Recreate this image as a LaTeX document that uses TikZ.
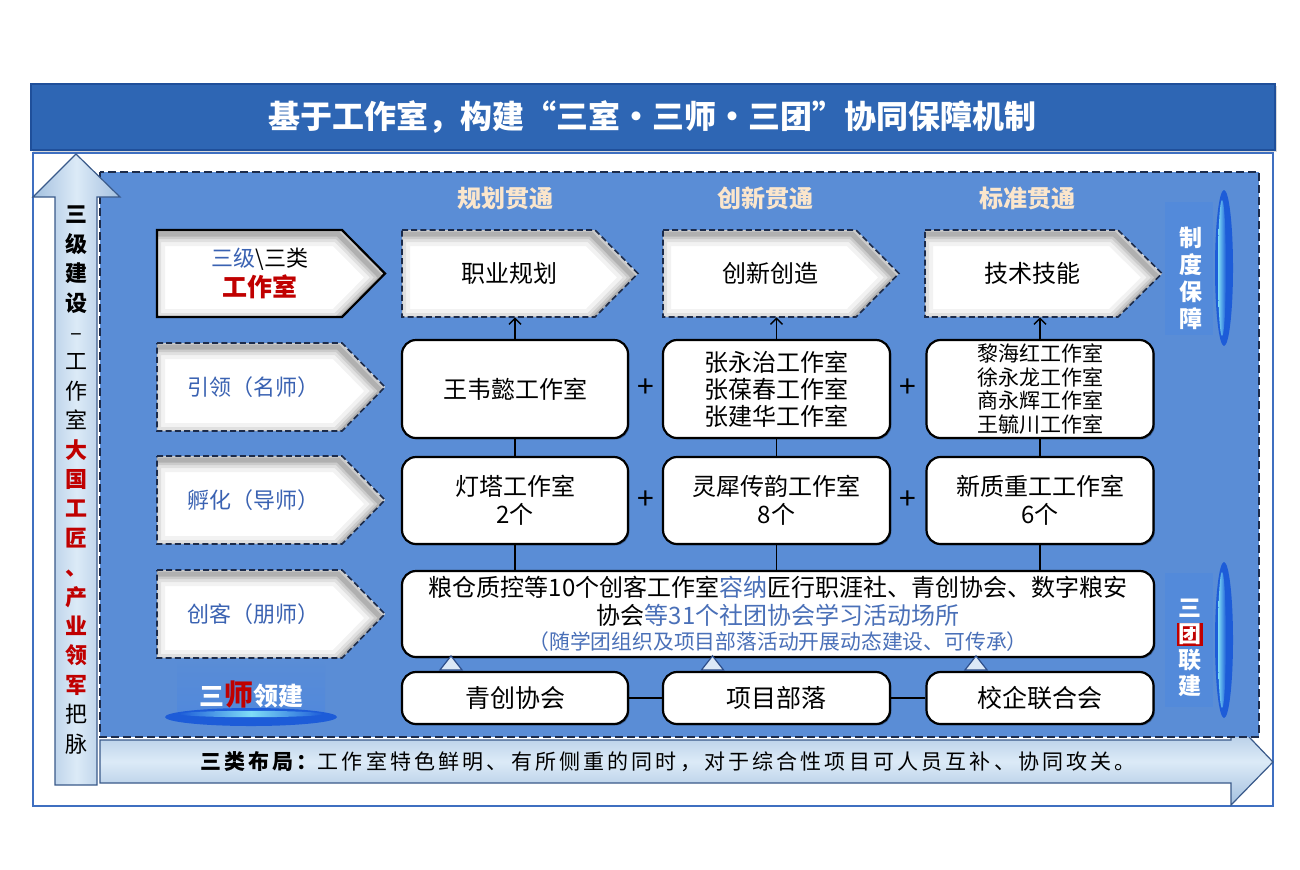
\documentclass[tikz,border=0pt]{standalone}
\usepackage{fontspec}
\setmainfont{Noto Sans CJK SC}
\newfontfamily\spacedfont[LetterSpace=15]{Noto Sans CJK SC}
\usetikzlibrary{calc,arrows.meta,shadows}
\definecolor{cRed}{HTML}{C00000}
\definecolor{cHdrBlue}{HTML}{3A62B2}
\definecolor{cTextBlue}{HTML}{4A70B8}
\definecolor{cPeach}{HTML}{FBE6CC}
\definecolor{cPanel}{HTML}{5A8DD6}
\definecolor{cTitle}{HTML}{2E66B4}
\definecolor{cTitleEdge}{HTML}{1F4F9A}
\definecolor{cFrame}{HTML}{3F6FC0}
\definecolor{cNavy}{HTML}{1C2B4A}
\definecolor{cArrowEdge}{HTML}{3A5A8A}
\definecolor{cArrowLight}{HTML}{DCEAF7}
\definecolor{cArrowDark}{HTML}{A3C0DF}
\definecolor{cTri}{HTML}{DCE9F7}
\definecolor{cTriEdge}{HTML}{2D4E8A}
\definecolor{cGloss}{HTML}{1D5CD8}
\definecolor{cCyan}{HTML}{7FDDF7}
\definecolor{cGlow}{HTML}{4A86E2}
\newcommand{\pentP}[5]{(#1,#2) -- (#3,#2) -- (#4,{(#2+#5)/2}) -- (#3,#5) -- (#1,#5) -- cycle}
\newcommand{\pentagon}[6]{%
  \fill[white] \pentP{#2}{#3}{#4}{#5}{#6};
  \begin{scope}
    \clip \pentP{#2}{#3}{#4}{#5}{#6};
    \foreach \w/\o in {12/0.05,8/0.07,5/0.09,2.5/0.13}{%
      \draw[black, draw opacity=\o, line width=\w pt, shift={(-4,4)}] \pentP{#2}{#3}{#4}{#5}{#6};}
  \end{scope}
  \draw[#1] \pentP{#2}{#3}{#4}{#5}{#6};}
\newcommand{\rc}[1]{\textcolor{cRed}{\bfseries #1}}
\newcommand{\bc}[1]{{\bfseries #1}}
\begin{document}
\begin{tikzpicture}[x=0.5pt,y=-0.5pt,
  rbox/.style={draw=black, line width=1.1pt, fill=white, rounded corners=7pt, inner sep=0pt, align=center,
    drop shadow={shadow xshift=0.7pt, shadow yshift=-0.7pt, opacity=0.3, fill=black}},
  pentdash/.style={draw=cNavy, line width=0.8pt, dash pattern=on 3pt off 1.6pt},
  pentsolid/.style={draw=black, line width=1.1pt},
  hdr/.style={font=\fontsize{11}{13}\selectfont, text=cHdrBlue, inner sep=0pt},
  coltitle/.style={font=\bfseries\fontsize{12}{14}\selectfont, text=cPeach, inner sep=0pt},
  body/.style={font=\fontsize{12}{14}\selectfont, inner sep=0pt, align=center},
  link/.style={draw=black, line width=0.7pt},
  uparrow/.style={link, -{Straight Barb[length=3pt,width=6pt]}},
  tri/.style={fill=cTri, draw=cTriEdge, line width=0.6pt},
  plus/.style={font=\fontsize{15}{15}\selectfont, inner sep=0pt},
  vlabel/.style={font=\bfseries\fontsize{11.5}{13.5}\selectfont, text=white, align=center, inner sep=0pt}
]
\useasboundingbox (0,0) rectangle (1300,869);
\fill[white] (0,0) rectangle (1300,869);

% title bar and frame
\draw[cFrame, line width=0.6pt] (33,153) rectangle (1273,806);
\fill[black, opacity=0.15] (33,86) rectangle (1277,152);
\draw[fill=cTitle, draw=cTitleEdge, line width=0.6pt] (31,84) rectangle (1275,150);
\node[font=\bfseries\fontsize{16}{18}\selectfont, text=white, inner sep=0pt] (title) at (652,117)
  {基于工作室，构建“三室·三师·三团”协同保障机制};

% bottom arrow (behind panel)
\draw[cArrowEdge, line width=0.6pt, top color=cArrowDark, bottom color=cArrowDark, middle color=cArrowLight]
  (100,740) -- (1231,740) -- (1231,718) -- (1273,762) -- (1231,805) -- (1231,783) -- (100,783) -- cycle;
\node[font=\spacedfont\fontsize{10.5}{12}\selectfont, inner sep=0pt] (layout) at (668,762)
  {{\bfseries 三类布局：}工作室特色鲜明、有所侧重的同时，对于综合性项目可人员互补、协同攻关。};

% main panel
\draw[fill=cPanel, draw=cNavy, line width=0.9pt, dash pattern=on 4pt off 2pt] (100,172) rectangle (1259,737);

% left arrow (over panel)
\draw[cArrowEdge, line width=0.6pt, left color=cArrowDark, right color=cArrowDark, middle color=cArrowLight]
  (55,785) -- (55,197) -- (33,197) -- (76,154) -- (120,197) -- (97,197) -- (97,785) -- cycle;
\node[font=\fontsize{11}{14.7}\selectfont, align=center, inner sep=0pt] (lv) at (76,480)
  {\bc{三}\\\bc{级}\\\bc{建}\\\bc{设}\\–\\工\\作\\室\\\rc{大}\\\rc{国}\\\rc{工}\\\rc{匠}\\\rc{、}\\\rc{产}\\\rc{业}\\\rc{领}\\\rc{军}\\把\\脉};

% column titles
\node[coltitle] (ct1) at (505,198) {规划贯通};
\node[coltitle] (ct2) at (765,198) {创新贯通};
\node[coltitle] (ct3) at (1027,198) {标准贯通};

% row headers
\pentagon{pentsolid}{157}{230}{342}{385}{317}
\node[font=\fontsize{11}{15}\selectfont, align=center, inner sep=0pt] (h1) at (260,273)
  {\textcolor{cHdrBlue}{三级}\textbackslash 三类\\{\bfseries\fontsize{12.5}{15}\selectfont\color{cRed}工作室}};
\pentagon{pentdash}{157}{343}{342}{385}{431}
\node[hdr] (h2) at (253,387) {引领（名师）};
\pentagon{pentdash}{157}{456}{342}{385}{544}
\node[hdr] (h3) at (253,500) {孵化（导师）};
\pentagon{pentdash}{157}{570}{342}{385}{658}
\node[hdr] (h4) at (253,614) {创客（朋师）};

% row 1 column pentagons
\pentagon{pentdash}{402}{230}{595}{638}{317}
\node[body, minimum width=75pt, minimum height=43.5pt] (p1) at (509,273.5) {职业规划};
\pentagon{pentdash}{663}{230}{856}{899}{317}
\node[body, minimum width=75pt, minimum height=43.5pt] (p2) at (770,273.5) {创新创造};
\pentagon{pentdash}{925}{230}{1118}{1162}{317}
\node[body, minimum width=75pt, minimum height=43.5pt] (p3) at (1032,273.5) {技术技能};

% row 2
\node[rbox, body, minimum width=113pt, minimum height=49pt] (b21) at (515,389) {王韦懿工作室};
\node[rbox, body, minimum width=113.5pt, minimum height=49pt] (b22) at (776.5,389)
  {张永治工作室\\[-0.5pt]张葆春工作室\\[-0.5pt]张建华工作室};
\node[rbox, minimum width=113.5pt, minimum height=49pt, font=\fontsize{10.5}{11.7}\selectfont] (b23) at (1040,389)
  {黎海红工作室\\徐永龙工作室\\商永辉工作室\\王毓川工作室};
\node[plus] (pl1) at (645.5,388) {+};
\node[plus] (pl2) at (908,388) {+};

% row 3
\node[rbox, body, minimum width=113pt, minimum height=43.5pt] (b31) at (515,500.5) {灯塔工作室\\2个};
\node[rbox, body, minimum width=113.5pt, minimum height=43.5pt] (b32) at (776.5,500.5) {灵犀传韵工作室\\8个};
\node[rbox, body, minimum width=113.5pt, minimum height=43.5pt] (b33) at (1040,500.5) {新质重工工作室\\6个};
\node[plus] (pl3) at (645.5,500) {+};
\node[plus] (pl4) at (908,500) {+};

% row 4
\node[rbox, body, minimum width=376pt, minimum height=43pt] (b4) at (778,614)
  {粮仓质控等10个创客工作室\textcolor{cTextBlue}{容纳}匠行职涯社、青创协会、数字粮安\\
   协会\textcolor{cTextBlue}{等31个社团协会学习活动场所}\\[-1.5pt]
   {\fontsize{10.4}{12}\selectfont\color{cTextBlue}（随学团组织及项目部落活动开展动态建设、可传承）}};

% row 5
\node[rbox, minimum width=113pt, minimum height=26pt, font=\fontsize{12.5}{14}\selectfont] (b51) at (515,698) {青创协会};
\node[rbox, minimum width=113.5pt, minimum height=26pt, font=\fontsize{12.5}{14}\selectfont] (b52) at (776.5,698) {项目部落};
\node[rbox, minimum width=113.5pt, minimum height=26pt, font=\fontsize{12.5}{14}\selectfont] (b53) at (1040,698) {校企联合会};

% connectors
\draw[uparrow] (b21.north) -- (b21.north |- p1.south);
\draw[uparrow] (b22.north) -- (b22.north |- p2.south);
\draw[uparrow] (b23.north) -- (b23.north |- p3.south);
\draw[link] (b21.south) -- (b31.north);
\draw[link] (b22.south) -- (b32.north);
\draw[link] (b23.south) -- (b33.north);
\draw[link] (b31.south) -- (b31.south |- b4.north);
\draw[link] (b32.south) -- (b32.south |- b4.north);
\draw[link] (b33.south) -- (b33.south |- b4.north);
\draw[link] (b51.east) -- (b52.west);
\draw[link] (b52.east) -- (b53.west);
\foreach \b in {b51,b52,b53}{
  \draw[tri] ($(\b.north)+(-75,-1)$) -- ($(\b.north)+(-64,-15)$) -- ($(\b.north)+(-53,-1)$) -- cycle;
}

% 三师领建
\shade[top color=cPanel, bottom color=cGlow, opacity=0.5, rounded corners=3pt] (177,660) rectangle (325,716);
\fill[cGloss] (251,717) ellipse [x radius=43pt, y radius=4.5pt];
\shade[left color=cGloss, right color=cGloss, middle color=cCyan] (251,714) ellipse [x radius=36pt, y radius=1.6pt];
\node[font=\bfseries\fontsize{12.5}{14}\selectfont, text=white, inner sep=0pt] (sanshi) at (251,694)
  {三{\color{cRed}\fontsize{14.5}{14}\selectfont 师}领建};

% 制度保障
\fill[cGlow, opacity=0.4] (1165,202) rectangle (1213,335);
\fill[cGloss] (1224,268) ellipse [x radius=4.5pt, y radius=39pt];
\shade[left color=cCyan, right color=cGloss] (1222,268) ellipse [x radius=2pt, y radius=34pt];
\node[vlabel] (zhidu) at (1191,278) {制\\度\\保\\障};

% 三团联建
\fill[cGlow, opacity=0.4] (1165,573) rectangle (1213,707);
\fill[cGloss] (1224,640) ellipse [x radius=4.5pt, y radius=39pt];
\shade[left color=cCyan, right color=cGloss] (1222,640) ellipse [x radius=2pt, y radius=34pt];
\node[vlabel, font=\bfseries\fontsize{11.5}{13}\selectfont] (santuan) at (1190,648)
  {三\\{\setlength{\fboxsep}{0.6pt}\colorbox{cRed}{团}}\\联\\建};
\end{tikzpicture}
\end{document}
